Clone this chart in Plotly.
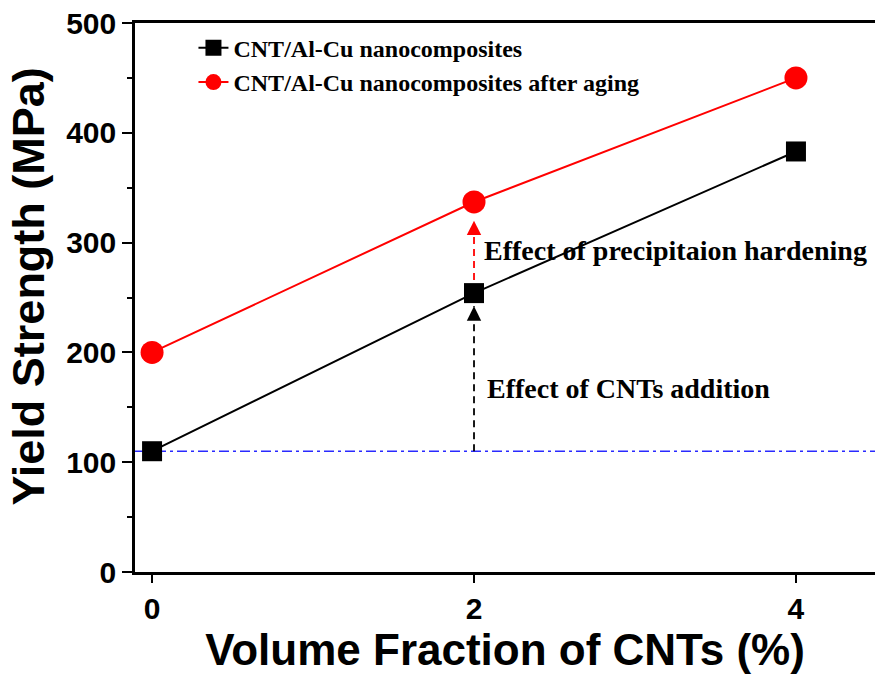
import plotly.graph_objects as go

# Volume fraction of CNTs (%)
cnt_fraction = [0, 2, 4]
# Yield strength (MPa)
as_sintered = [110, 254, 383]
after_aging = [200, 337, 450]

# Reference level (matrix without CNTs) and arrow ends
baseline = 110
cnt_arrow = [110, 242]
aging_arrow = [266, 320]

y_ticks = [0, 100, 200, 300, 400, 500]
x_ticks = [0, 2, 4]

SANS = "Liberation Sans, Arial, sans-serif"
SERIF = "Liberation Serif, Times New Roman, serif"

fig = go.Figure()

# dash-dot reference line at the unreinforced strength
fig.add_shape(type="line", xref="x domain", yref="y", x0=0, x1=1,
              y0=baseline, y1=baseline,
              line=dict(color="#2a2aff", width=1.6, dash="10px,4px,3px,4px"),
              layer="below")

# dashed arrow shafts
fig.add_trace(go.Scatter(x=[cnt_fraction[1]] * 2, y=cnt_arrow, mode="lines",
                         line=dict(color="black", width=1.8, dash="7px,5px"),
                         showlegend=False, hoverinfo="skip"))
fig.add_trace(go.Scatter(x=[cnt_fraction[1]] * 2, y=aging_arrow, mode="lines",
                         line=dict(color="red", width=1.8, dash="7px,5px"),
                         showlegend=False, hoverinfo="skip"))

fig.add_trace(go.Scatter(
    x=cnt_fraction, y=as_sintered, mode="lines+markers",
    name="CNT/Al-Cu nanocomposites",
    line=dict(color="black", width=2),
    marker=dict(symbol="square", size=20, color="black"),
))
fig.add_trace(go.Scatter(
    x=cnt_fraction, y=after_aging, mode="lines+markers",
    name="CNT/Al-Cu nanocomposites after aging",
    line=dict(color="red", width=2),
    marker=dict(symbol="circle", size=23, color="red"),
))

# arrow heads
for tip, col in [(cnt_arrow[1], "black"), (aging_arrow[1], "red")]:
    fig.add_annotation(x=cnt_fraction[1], y=tip, xref="x", yref="y",
                       ax=0, ay=12, text="", showarrow=True,
                       arrowhead=2, arrowsize=1.6, arrowwidth=1.8,
                       arrowcolor=col)

fig.add_annotation(x=2.05, y=293, xref="x", yref="y", xanchor="left",
                   yanchor="middle", text="Effect of precipitaion hardening",
                   showarrow=False,
                   font=dict(family=SERIF, size=28, color="black", weight="bold"))
fig.add_annotation(x=2.07, y=167, xref="x", yref="y", xanchor="left",
                   yanchor="middle", text="Effect of CNTs addition",
                   showarrow=False,
                   font=dict(family=SERIF, size=28, color="black", weight="bold"))

# y-axis title, placed in paper units left of the plot area
fig.add_annotation(x=(29 - 135) / 740, y=0.52, xref="paper", yref="paper",
                   xanchor="center", yanchor="middle", textangle=-90,
                   text="Yield Strength (MPa)", showarrow=False,
                   font=dict(family=SANS, size=45, color="black", weight="bold"))

fig.update_layout(
    width=875, height=675,
    margin=dict(l=135, r=0, t=23, b=103),
    paper_bgcolor="white", plot_bgcolor="white",
    legend=dict(x=0.079, y=0.995, xanchor="left", yanchor="top",
                bgcolor="rgba(0,0,0,0)", tracegroupgap=0,
                font=dict(family=SERIF, size=24, color="black", weight="bold")),
    xaxis=dict(
        range=[-0.106, 4.491], tickvals=x_ticks,
        ticks="outside", ticklen=8, tickwidth=2, tickcolor="black",
        showline=True, linecolor="black", linewidth=2.5, mirror=True,
        showgrid=False, zeroline=False,
        tickfont=dict(family=SANS, size=30, color="black", weight="bold"),
        title=dict(text="Volume Fraction of CNTs (%)", standoff=2,
                   font=dict(family=SANS, size=44, color="black", weight="bold")),
    ),
    yaxis=dict(
        range=[0, 500], tickvals=y_ticks,
        ticks="outside", ticklen=10, tickwidth=2, tickcolor="black",
        minor=dict(dtick=50, ticks="outside", ticklen=5, tickwidth=2,
                   tickcolor="black", showgrid=False),
        showline=True, linecolor="black", linewidth=2.5,
        showgrid=False, zeroline=False,
        tickfont=dict(family=SANS, size=30, color="black", weight="bold"),
    ),
)

fig.write_html("out.html")
